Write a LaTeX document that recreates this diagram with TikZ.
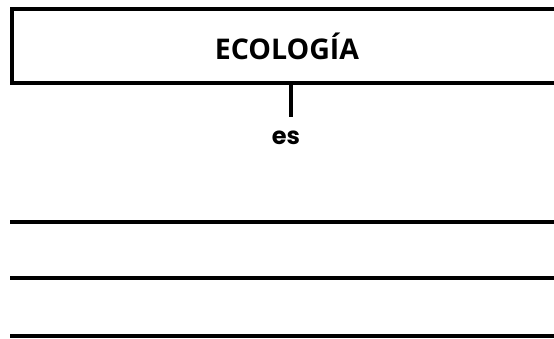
\documentclass[tikz,border=0pt]{standalone}
\usepackage{fontspec}
\setmainfont{Open Sans}
\newfontfamily\esfont{Poppins}
\usetikzlibrary{positioning}

\begin{document}
\begin{tikzpicture}[x=1pt,y=-1pt,
	titlebox/.style={draw,line width=4pt,minimum width=550pt,minimum height=74pt,inner sep=0pt,font=\fontsize{28.5}{30}\selectfont\bfseries},
	linkword/.style={font=\esfont\fontsize{24}{26}\selectfont\bfseries},
	rule/.style={line width=4pt}]
\useasboundingbox (0,0) rectangle (554,338);
\node [titlebox] (eco) at (287,46) {ECOLOG\'IA};
\coordinate (stem) at (291,117);
\draw [rule] (eco.south -| stem) -- (stem);
\node [linkword] (es) at (286,138) {es};
\foreach \y/\n in {222/a,278/b,336/c}{
	\coordinate (l\n) at (10,\y);
	\coordinate (r\n) at (562,\y);
	\draw [rule] (l\n) -- (r\n);
}
\end{tikzpicture}
\end{document}
